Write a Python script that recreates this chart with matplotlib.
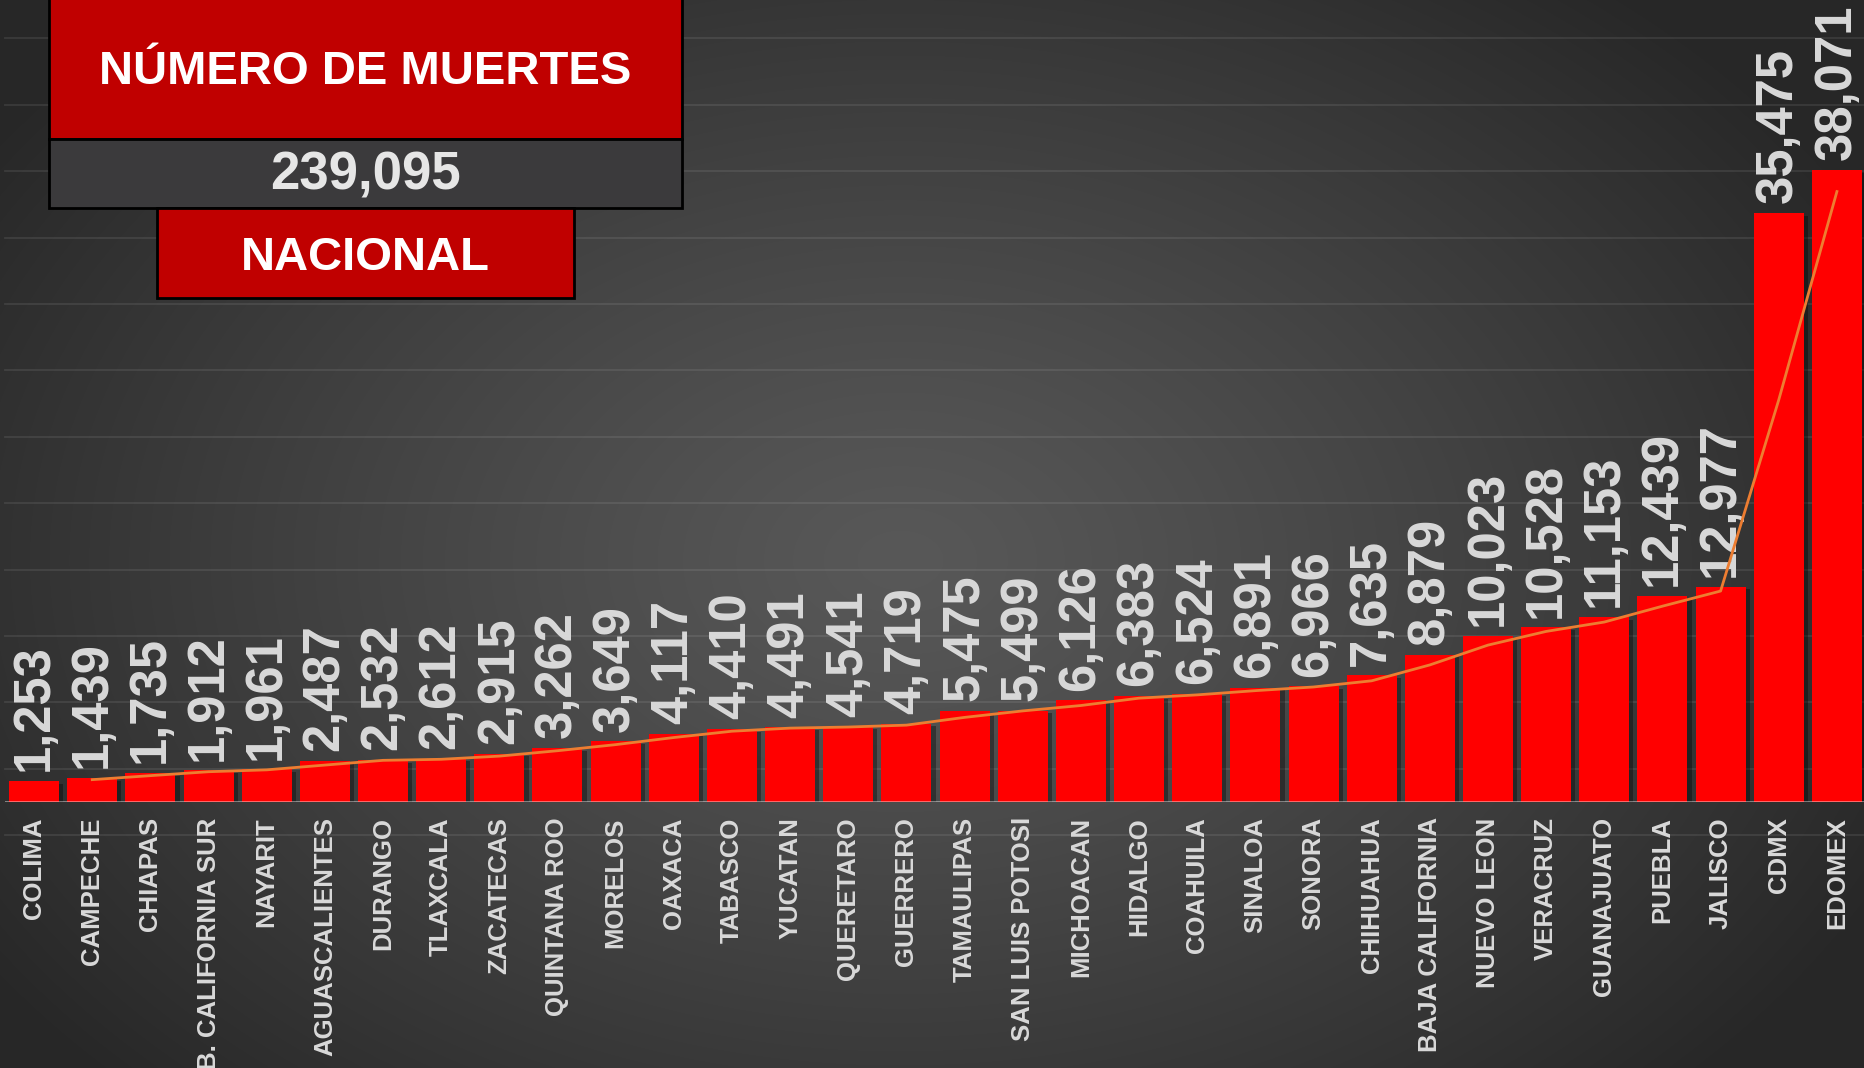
import numpy as np
import matplotlib
matplotlib.use("Agg")
import matplotlib.pyplot as plt
from matplotlib import patheffects as pe
from matplotlib.patches import Rectangle

states = ["COLIMA", "CAMPECHE", "CHIAPAS", "B. CALIFORNIA SUR", "NAYARIT",
          "AGUASCALIENTES", "DURANGO", "TLAXCALA", "ZACATECAS", "QUINTANA ROO",
          "MORELOS", "OAXACA", "TABASCO", "YUCATAN", "QUERETARO", "GUERRERO",
          "TAMAULIPAS", "SAN LUIS POTOSI", "MICHOACAN", "HIDALGO", "COAHUILA",
          "SINALOA", "SONORA", "CHIHUAHUA", "BAJA CALIFORNIA", "NUEVO LEON",
          "VERACRUZ", "GUANAJUATO", "PUEBLA", "JALISCO", "CDMX", "EDOMEX"]
deaths = [1253, 1439, 1735, 1912, 1961, 2487, 2532, 2612, 2915, 3262,
          3649, 4117, 4410, 4491, 4541, 4719, 5475, 5499, 6126, 6383,
          6524, 6891, 6966, 7635, 8879, 10023, 10528, 11153, 12439, 12977,
          35475, 38071]
total_label = "239,095"
title_top = "NÚMERO DE MUERTES"
title_bottom = "NACIONAL"
grid_values = list(range(-2000, 48001, 4000))

plt.rcParams['font.family'] = ['Liberation Sans', 'DejaVu Sans']

W, H = 1864, 1068
fig = plt.figure(figsize=(W / 100, H / 100), dpi=100)

# background radial gradient
bg = fig.add_axes([0, 0, 1, 1])
bg.axis('off')
yy, xx = np.mgrid[0:H, 0:W]
r = np.sqrt(((xx - 900) / 1100.0) ** 2 + ((yy - 560) / 760.0) ** 2)
v = (0x58 - (0x58 - 0x27) * np.clip(r, 0, 1) ** 1.2) / 255.0
bg.imshow(np.dstack([v, v, v]), extent=[0, 1, 0, 1], aspect='auto',
          interpolation='bilinear')
bg.set_xlim(0, 1)
bg.set_ylim(0, 1)

# main chart
ax = fig.add_axes([5 / W, (H - 802) / H, 1861 / W, 802 / H])
ax.patch.set_alpha(0)
x = np.arange(len(states))
ax.set_xlim(-0.5, len(states) - 0.5)
ax.set_ylim(0, 802 / (632 / 38071))

for gv in grid_values:
    ax.axhline(gv, color=(1, 1, 1, 0.09), lw=1.3, zorder=0, clip_on=False)

bars = ax.bar(x, deaths, width=0.86, color='#FF0000', zorder=2)
for b in bars:
    b.set_path_effects([pe.SimplePatchShadow(offset=(3, -2), shadow_rgbFace='black', alpha=0.35),
                        pe.Normal()])

ax.axhline(0, color=(1, 1, 1, 0.45), lw=2, zorder=3)

for xi, d in zip(x, deaths):
    ax.annotate(f"{d:,}", (xi, d), xytext=(0, 7), textcoords='offset points',
                rotation=90, ha='center', va='bottom', fontsize=36.5,
                fontweight='bold', color='#d9d9d9', zorder=4)

ma = [(deaths[i - 1] + deaths[i]) / 2 for i in range(1, len(deaths))]
ax.plot(x[1:], ma, color='#ED7D31', lw=2, zorder=5)

ax.set_xticks(x)
ax.set_xticklabels(states, rotation=90, fontsize=18.5, fontweight='bold',
                   color='#d9d9d9', va='top')
ax.tick_params(axis='x', length=0, pad=11)
ax.set_yticks([])
for s in ax.spines.values():
    s.set_visible(False)

# header boxes overlay
ov = fig.add_axes([0, 0, 1, 1])
ov.axis('off')
ov.patch.set_alpha(0)
ov.set_xlim(0, W)
ov.set_ylim(H, 0)
ov.add_patch(Rectangle((49, -5), 633, 144, facecolor='#C00000', edgecolor='black', lw=2))
ov.add_patch(Rectangle((49, 139), 633, 69, facecolor='#3B3A3C', edgecolor='black', lw=2))
ov.add_patch(Rectangle((157, 208), 417, 90, facecolor='#C00000', edgecolor='black', lw=2))
ov.text(365, 72, title_top, ha='center', va='center', fontsize=34,
        fontweight='bold', color='white')
ov.text(365, 175, total_label, ha='center', va='center', fontsize=38,
        fontweight='bold', color='#e6e6e6')
ov.text(365, 258, title_bottom, ha='center', va='center', fontsize=34,
        fontweight='bold', color='white')

fig.savefig("out.png", dpi=100)
